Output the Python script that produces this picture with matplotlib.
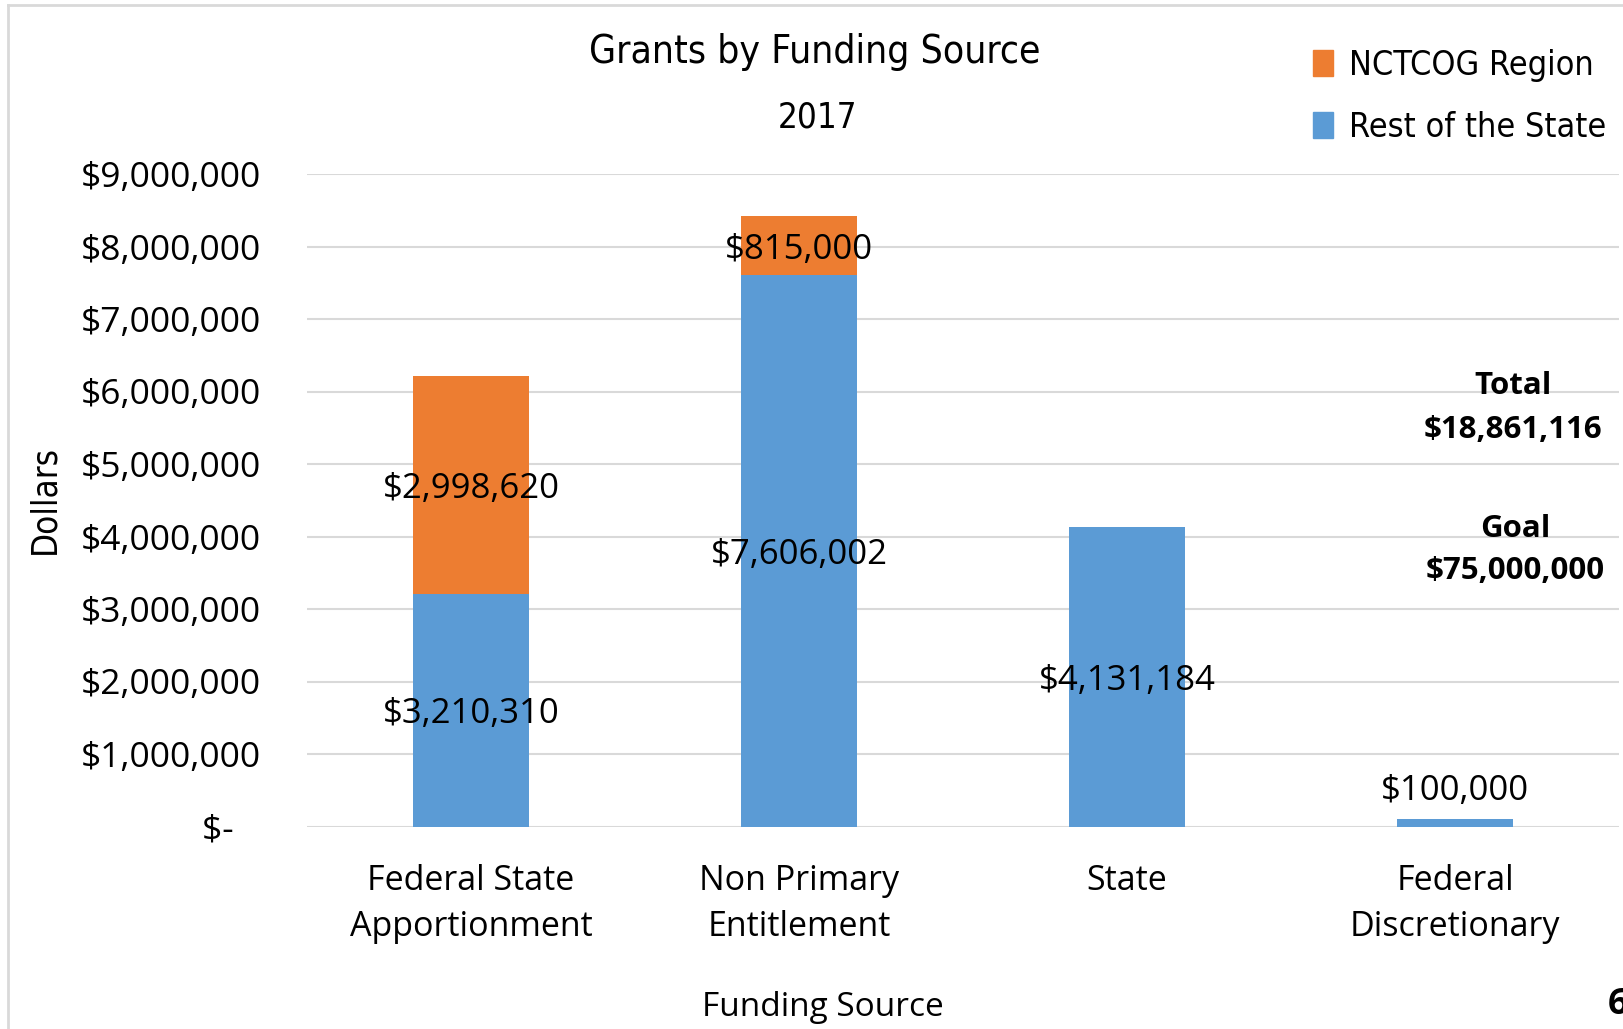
import numpy as np
import matplotlib.pyplot as plt
from matplotlib.lines import Line2D
from matplotlib.patches import Patch

categories = ["Federal State\nApportionment", "Non Primary\nEntitlement", "State", "Federal\nDiscretionary"]
rest_of_state = [3210310, 7606002, 4131184, 100000]
nctcog = [2998620, 815000, 0, 0]
yticks = [0, 1000000, 2000000, 3000000, 4000000, 5000000, 6000000, 7000000, 8000000, 9000000]
ytick_labels = ["$-   ", "$1,000,000", "$2,000,000", "$3,000,000", "$4,000,000", "$5,000,000",
                "$6,000,000", "$7,000,000", "$8,000,000", "$9,000,000"]
total_text = "Total\n$18,861,116"
goal_text = "Goal\n$75,000,000"

blue = "#5B9BD5"
orange = "#ED7D31"
narrow = dict(family="DejaVu Sans", stretch="condensed")
plt.rcParams["font.family"] = ["Open Sans", "DejaVu Sans"]

fig = plt.figure(figsize=(16.24, 10.29), dpi=100)
ax = fig.add_axes([307/1624, 1-826.5/1029, 1312/1624, (826.5-174)/1029])

x = np.arange(len(categories))
w = 0.354
ax.bar(x, rest_of_state, w, color=blue, zorder=3)
ax.bar(x, nctcog, w, bottom=rest_of_state, color=orange, zorder=3)

ax.set_xlim(-0.5, 3.5)
ax.set_ylim(0, 9000000)
ax.set_yticks(yticks)
ax.set_yticklabels(ytick_labels, fontsize=25.5)
ax.set_xticks(x)
ax.set_xticklabels(categories, fontsize=24.5, linespacing=1.45)
ax.tick_params(axis="y", length=0, pad=33)
ax.tick_params(axis="x", length=0, pad=27)
ax.grid(axis="y", color="#d9d9d9", linewidth=1.5, zorder=0)
for s in ax.spines.values():
    s.set_visible(False)

# data labels
for i in range(len(categories)):
    r = rest_of_state[i]
    if i == 3:
        ax.annotate("${:,}".format(r), (x[i], r), xytext=(0, 8), textcoords="offset points",
                    ha="center", va="bottom", fontsize=25)
    else:
        ax.text(x[i], r/2, "${:,}".format(r), ha="center", va="center_baseline", fontsize=25, zorder=4)
    n_ = nctcog[i]
    if n_ > 0:
        ax.text(x[i], r + n_/2, "${:,}".format(n_), ha="center", va="center_baseline", fontsize=25, zorder=4)

fig.text(815/1624, 1-52/1029, "Grants by Funding Source", ha="center", va="center", fontsize=28, **narrow)
fig.text(818/1624, 1-117/1029, "2017", ha="center", va="center", fontsize=25, **narrow)
fig.text(44/1624, 1-500/1029, "Dollars", ha="center", va="center", rotation=90, fontsize=25, **narrow)
fig.text(823/1624, 1-1008/1029, "Funding Source", ha="center", va="center", fontsize=24)

fig.text(1513/1624, 1-408/1029, total_text, ha="center", va="center", fontsize=22.5,
         fontweight="bold", linespacing=1.65)
fig.text(1515/1624, 1-550/1029, goal_text, ha="center", va="center", fontsize=22.5,
         fontweight="bold", linespacing=1.55)
fig.text(1608/1624, 1-1005/1029, "6", ha="left", va="center", fontsize=26, fontweight="bold")

handles = [Patch(color=orange, label="NCTCOG Region"), Patch(color=blue, label="Rest of the State")]
leg = fig.legend(handles=handles, loc="upper left", bbox_to_anchor=(1296/1624, 1-32/1029), frameon=False,
                 prop=dict(size=24.5, **narrow), handlelength=0.6, handleheight=0.8,
                 handletextpad=0.45, labelspacing=0.85, borderpad=0)

# faint frame of the screenshot
fig.add_artist(Line2D([8/1624, 8/1624], [0, 1-5/1029], color="#d9d9d9", lw=2))
fig.add_artist(Line2D([8/1624, 1], [1-5/1029, 1-5/1029], color="#d9d9d9", lw=2))

fig.savefig("out.png", dpi=100)
